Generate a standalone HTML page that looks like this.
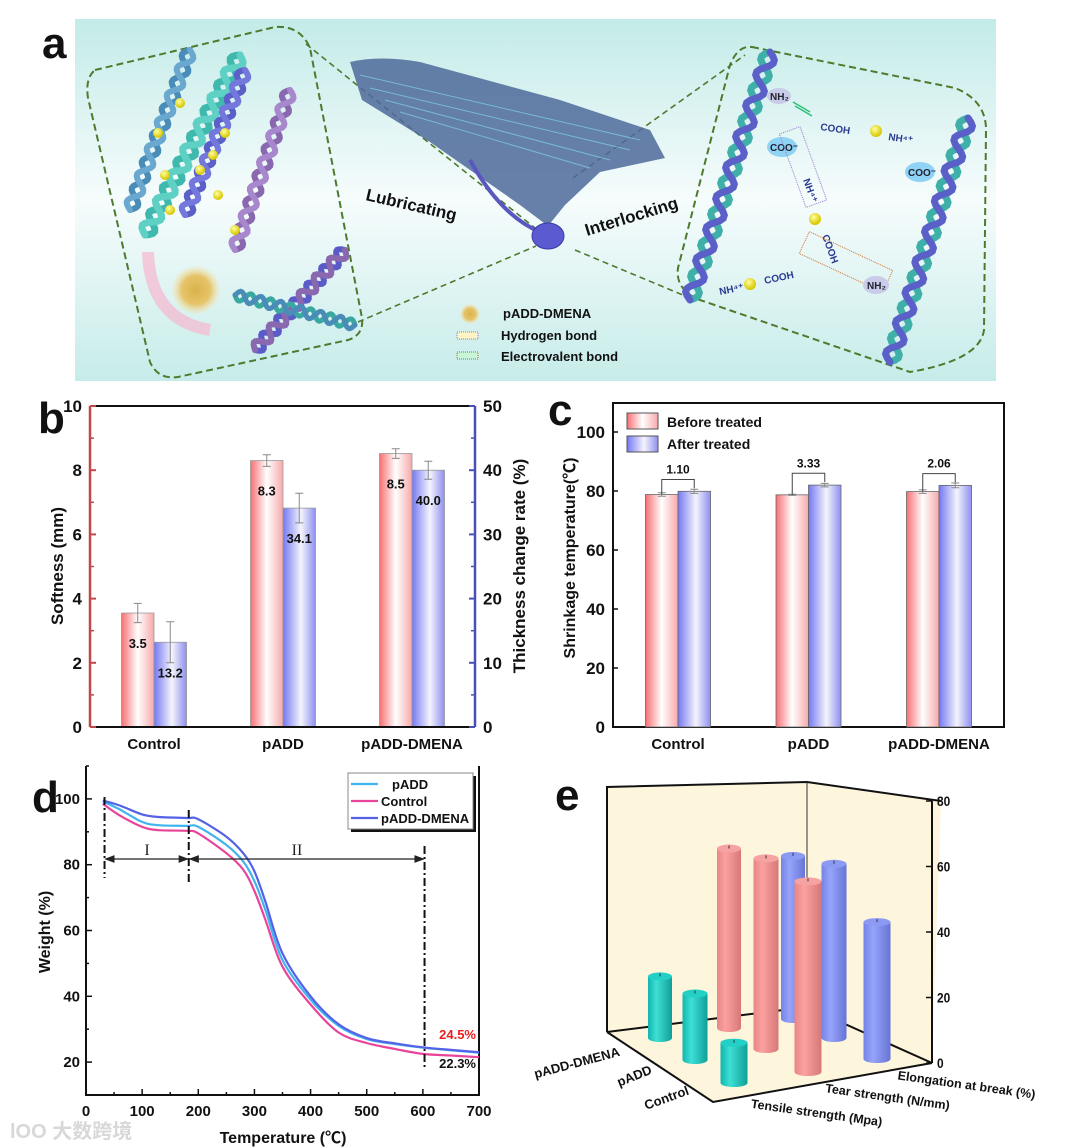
<!DOCTYPE html>
<html><head><meta charset="utf-8">
<style>
html,body{margin:0;padding:0;background:#fff;}
svg{display:block;font-family:"Liberation Sans","Noto Sans CJK SC",sans-serif;}
.t{font-weight:bold;fill:#111;}
</style></head>
<body>
<svg id="fig" width="1080" height="1148" viewBox="0 0 1080 1148" xmlns="http://www.w3.org/2000/svg">
<defs>
<linearGradient id="bgA" x1="0" y1="0" x2="0" y2="1">
<stop offset="0" stop-color="#c3ebe8"/><stop offset="0.5" stop-color="#f6fcfc"/><stop offset="1" stop-color="#c6ece9"/>
</linearGradient>
<linearGradient id="gRed" x1="0" y1="0" x2="1" y2="0">
<stop offset="0" stop-color="#f86f73"/><stop offset="0.5" stop-color="#ffffff"/><stop offset="1" stop-color="#f7a9ab"/>
</linearGradient>
<linearGradient id="gBlue" x1="0" y1="0" x2="1" y2="0">
<stop offset="0" stop-color="#7478f2"/><stop offset="0.55" stop-color="#f4f4fc"/><stop offset="1" stop-color="#8d90f0"/>
</linearGradient>
<linearGradient id="cTeal" x1="0" y1="0" x2="1" y2="0">
<stop offset="0" stop-color="#10b5ad"/><stop offset="0.35" stop-color="#3ee0d6"/><stop offset="1" stop-color="#0f9f98"/>
</linearGradient>
<linearGradient id="cPink" x1="0" y1="0" x2="1" y2="0">
<stop offset="0" stop-color="#e98686"/><stop offset="0.35" stop-color="#fba0a0"/><stop offset="1" stop-color="#d67878"/>
</linearGradient>
<linearGradient id="cBlue" x1="0" y1="0" x2="1" y2="0">
<stop offset="0" stop-color="#7483e6"/><stop offset="0.35" stop-color="#97a4fb"/><stop offset="1" stop-color="#6675d6"/>
</linearGradient>
<radialGradient id="sun" cx="0.5" cy="0.5" r="0.5">
<stop offset="0" stop-color="#d9b24a"/><stop offset="0.6" stop-color="#e6c46a"/><stop offset="1" stop-color="#f4e6b0" stop-opacity="0.2"/>
</radialGradient>
<radialGradient id="ball" cx="0.4" cy="0.35" r="0.6">
<stop offset="0" stop-color="#ffffa0"/><stop offset="1" stop-color="#d8c800"/>
</radialGradient>
<marker id="arr" markerWidth="8" markerHeight="8" refX="7" refY="4" orient="auto"><path d="M0,1 L8,4 L0,7 z" fill="#222"/></marker>
<marker id="arrS" markerWidth="8" markerHeight="8" refX="1" refY="4" orient="auto"><path d="M8,1 L0,4 L8,7 z" fill="#222"/></marker>
</defs>

<!-- ================= PANEL A ================= -->
<g id="panelA">
<text x="42" y="58" class="t" font-size="44">a</text>
<rect x="75" y="19" width="921" height="362" fill="url(#bgA)"/>
<path d="M95,70 L275,27 Q300,25 310,48 L362,318 Q364,335 348,340 L178,377 Q158,380 150,362 L88,98 Q85,78 95,70 Z" fill="none" stroke="#4e7a2e" stroke-width="2" stroke-dasharray="7,4"/>
<path d="M752,47 L955,88 Q985,100 986,128 L984,330 Q980,360 910,372 L700,300 Q675,290 678,268 L730,65 Q738,45 752,47 Z" fill="none" stroke="#4e7a2e" stroke-width="2" stroke-dasharray="7,4"/>
<path d="M306,44 L540,232 M358,322 L536,246 M573,178 L745,55 M575,250 L690,298" stroke="#4e7a2e" stroke-width="1.6" stroke-dasharray="6,4" fill="none"/>
<path d="M350,62 Q380,55 420,62 L560,100 L650,130 L665,158 L600,172 L565,205 L548,226 L520,205 L430,142 L362,100 Z" fill="#4d6a9a" opacity="0.85"/>
<path d="M360,75 L640,140 M370,88 L630,150 M385,100 L610,160 M400,112 L590,168" stroke="#7fd4e0" stroke-width="1" opacity="0.7"/>
<path d="M470,160 Q500,215 540,232" stroke="#5a58c0" stroke-width="4" fill="none"/>
<ellipse cx="548" cy="236" rx="16" ry="13" fill="#5b5ad0" stroke="#3a3aa0"/>
<g id="helices"></g>
<circle cx="196" cy="290" r="24" fill="url(#sun)"/>
<path d="M148,252 Q150,320 210,330" stroke="#f6b6cf" stroke-width="12" fill="none" opacity="0.7"/>
<text x="0" y="0" class="t" font-size="17" transform="translate(365,200) rotate(13)">Lubricating</text>
<text x="0" y="0" class="t" font-size="17" transform="translate(587,236) rotate(-17)">Interlocking</text>
<circle cx="470" cy="314" r="10" fill="url(#sun)"/>
<rect x="457" y="332" width="21" height="7" fill="#fff3c8" stroke="#8b7bd0" stroke-dasharray="1,1"/>
<rect x="457" y="352" width="21" height="7" fill="#c8f4d8" stroke="#b06a30" stroke-dasharray="1,1"/>
<text x="503" y="318" class="t" font-size="13">pADD-DMENA</text>
<text x="501" y="340" class="t" font-size="13">Hydrogen bond</text>
<text x="501" y="361" class="t" font-size="13">Electrovalent bond</text>
<g font-size="10" fill="#2a3a90" font-weight="bold">
<ellipse cx="779" cy="96" rx="12" ry="8" fill="#c8cce8"/><text x="770" y="100" fill="#223">NH₂</text>
<text x="820" y="130" transform="rotate(8 820 130)">COOH</text>
<circle cx="876" cy="131" r="6" fill="url(#ball)"/>
<text x="888" y="140" transform="rotate(8 888 140)">NH⁴⁺</text>
<ellipse cx="782" cy="147" rx="15" ry="10" fill="#8fd4f4"/><text x="770" y="151" fill="#223">COO⁻</text>
<ellipse cx="920" cy="172" rx="15" ry="10" fill="#8fd4f4"/><text x="908" y="176" fill="#223">COO⁻</text>
<rect x="792" y="128" width="22" height="78" fill="none" stroke="#9a7ad0" stroke-dasharray="1,1" transform="rotate(-20 803 167)"/>
<text x="803" y="180" transform="rotate(70 803 180)">NH⁴⁺</text>
<circle cx="815" cy="219" r="6" fill="url(#ball)"/>
<text x="822" y="236" transform="rotate(70 822 236)">COOH</text>
<rect x="800" y="250" width="92" height="24" fill="none" stroke="#d07030" stroke-dasharray="1,1" transform="rotate(25 846 262)"/>
<ellipse cx="876" cy="285" rx="13" ry="9" fill="#c8cce8"/><text x="867" y="289" fill="#223">NH₂</text>
<text x="720" y="295" transform="rotate(-12 720 295)">NH⁴⁺</text>
<circle cx="750" cy="284" r="6" fill="url(#ball)"/>
<text x="765" y="284" transform="rotate(-12 765 284)">COOH</text>
<path d="M793,102 L810,112 M795,106 L812,116" stroke="#2fc07a" stroke-width="1.5"/>
</g>
</g>

<!-- ================= PANEL B ================= -->
<g id="panelB">
<text x="38" y="433" class="t" font-size="44">b</text>
</g>

<!-- ================= PANEL C ================= -->
<g id="panelC">
<text x="548" y="425" class="t" font-size="44">c</text>
</g>

<!-- ================= PANEL D ================= -->
<g id="panelD">
<text x="32" y="812" class="t" font-size="44">d</text>
<text x="10" y="1138" font-size="20" fill="#d8d8d8" font-weight="bold">lOO 大数跨境</text>
</g>

<!-- ================= PANEL E ================= -->
<g id="panelE">
<text x="555" y="810" class="t" font-size="44">e</text>
</g>
</svg>

<script>
const NS='http://www.w3.org/2000/svg';
function mk(parent,tag,attrs,text){const e=document.createElementNS(NS,tag);for(const k in attrs)e.setAttribute(k,attrs[k]);if(text!==undefined)e.textContent=text;parent.appendChild(e);return e;}

/* ---------- Panel A helices ---------- */
const helixG=document.getElementById('helices');
function helix(x1,y1,x2,y2,amp,turns,c1,c2,w){
  const dx=x2-x1,dy=y2-y1,L=Math.hypot(dx,dy),nx=-dy/L,ny=dx/L;
  [[c1,0],[c2,Math.PI]].forEach(([c,ph])=>{
    let d='';for(let i=0;i<=80;i++){const t=i/80,s=amp*Math.sin(t*turns*2*Math.PI+ph);
      const x=x1+dx*t+nx*s,y=y1+dy*t+ny*s;d+=(i?'L':'M')+x.toFixed(1)+','+y.toFixed(1);}
    const p=mk(helixG,'path',{d:d,stroke:c,'stroke-width':w,fill:'none','stroke-linecap':'round'});
    
    
  });
}
helix(130,210,190,50,6,6,'#4a8cb8','#6aa8d0',6);
helix(145,235,240,55,7,7,'#3fb8ae','#5fd0c4',7);
helix(185,215,245,70,6,6,'#5a60c8','#7478dc',6);
helix(235,250,290,90,6,6,'#8a68b0','#a888cc',6);
helix(255,350,345,250,6,6,'#5a5ac8','#8a68b0',6);
helix(235,295,355,325,5,6,'#3aa8a0','#4a8cb8',5);
helix(690,300,770,52,7,8,'#3fb0a8','#5a60c8',7);
helix(890,362,968,118,7,8,'#3fb0a8','#5a60c8',7);
[[180,103],[158,133],[225,133],[165,175],[200,170],[218,195],[235,230],[170,210],[213,155]].forEach(p=>{
  const c=mk(helixG,'circle',{cx:p[0],cy:p[1],r:5,fill:'url(#ball)'});
  
  
});

/* ---------- Panel B data ---------- */
const bCategories=['Control','pADD','pADD-DMENA'];
const bSoftness=[3.55,8.3,8.52];
const bSoftErr=[0.3,0.18,0.15];
const bThickness=[13.2,34.1,40.0];
const bThickErr=[3.2,2.3,1.4];
const bSoftLabels=['3.5','8.3','8.5'];
const bThickLabels=['13.2','34.1','40.0'];
const bLeftTicks=[0,2,4,6,8,10];
const bRightTicks=[0,10,20,30,40,50];
(function(){
  const g=document.getElementById('panelB');
  const L=90,R=475,T=406,B=727;
  const yL=v=>B-(v/10)*(B-T), yR=v=>B-(v/50)*(B-T);
  const xC=i=>154+i*129, bw=32.5;
  bCategories.forEach((c,i)=>{
    const cx=xC(i);
    const r=mk(g,'rect',{x:cx-bw,y:yL(bSoftness[i]),width:bw,height:B-yL(bSoftness[i]),fill:'url(#gRed)',stroke:'#999','stroke-width':0.8});
    
    
    const b=mk(g,'rect',{x:cx,y:yR(bThickness[i]),width:bw,height:B-yR(bThickness[i]),fill:'url(#gBlue)',stroke:'#999','stroke-width':0.8});
    
    
    [[cx-bw/2,yL(bSoftness[i]+bSoftErr[i]),yL(bSoftness[i]-bSoftErr[i])],[cx+bw/2,yR(bThickness[i]+bThickErr[i]),yR(bThickness[i]-bThickErr[i])]].forEach(e=>{
      const eb=mk(g,'path',{d:`M${e[0]},${e[1]}V${e[2]}M${e[0]-4},${e[1]}h8M${e[0]-4},${e[2]}h8`,stroke:'#888','stroke-width':1,fill:'none'});
      
      
    });
    const t1=mk(g,'text',{x:cx-bw/2,y:yL(bSoftness[i])+35,'text-anchor':'middle','font-size':13,class:'t'},bSoftLabels[i]);
    
    
    const t2=mk(g,'text',{x:cx+bw/2,y:yR(bThickness[i])+35,'text-anchor':'middle','font-size':13,class:'t'},bThickLabels[i]);
    
    
    const cl=mk(g,'text',{x:cx,y:749,'text-anchor':'middle','font-size':15,class:'t'},c);
    
    
  });
  const ax=mk(g,'path',{d:`M${L},${T}H${R}M${L},${B}H${R}`,stroke:'#111','stroke-width':2,fill:'none'});
  
  
  const la=mk(g,'line',{x1:L,y1:T,x2:L,y2:B,stroke:'#c04848','stroke-width':2.5});
  
  
  const ra=mk(g,'line',{x1:R,y1:T,x2:R,y2:B,stroke:'#4850b8','stroke-width':2.5});
  
  
  bLeftTicks.forEach((v,i)=>{
    const y=yL(v);mk(g,'line',{x1:L,y1:y,x2:L+6,y2:y,stroke:'#c04848','stroke-width':2});
    if(i<bLeftTicks.length-1)mk(g,'line',{x1:L,y1:y-(B-T)/10,x2:L+4,y2:y-(B-T)/10,stroke:'#c04848','stroke-width':1.5});
    const t=mk(g,'text',{x:L-8,y:y+6,'text-anchor':'end','font-size':17,class:'t'},v);
    
    
  });
  bRightTicks.forEach((v,i)=>{
    const y=yR(v);mk(g,'line',{x1:R,y1:y,x2:R-6,y2:y,stroke:'#4850b8','stroke-width':2});
    if(i<bRightTicks.length-1)mk(g,'line',{x1:R,y1:y-(B-T)/10,x2:R-4,y2:y-(B-T)/10,stroke:'#4850b8','stroke-width':1.5});
    const t=mk(g,'text',{x:R+8,y:y+6,'font-size':17,class:'t'},v);
    
    
  });
  const yt=mk(g,'text',{x:0,y:0,transform:'translate(63,566) rotate(-90)','text-anchor':'middle','font-size':17,class:'t'},'Softness (mm)');
  
  
  const yt2=mk(g,'text',{x:0,y:0,transform:'translate(525,566) rotate(-90)','text-anchor':'middle','font-size':17,class:'t'},'Thickness change rate (%)');
  
  
})();

/* ---------- Panel C data ---------- */
const cCategories=['Control','pADD','pADD-DMENA'];
const cBefore=[78.8,78.7,79.8];
const cAfter=[79.9,82.0,81.9];
const cErrBefore=[0.6,0.2,0.6];
const cErrAfter=[0.7,0.6,0.8];
const cDiffLabels=['1.10','3.33','2.06'];
const cTicks=[0,20,40,60,80,100];
(function(){
  const g=document.getElementById('panelC');
  const L=613,R=1004,T=403,B=727;
  const y=v=>B-v*(B-432)/100;
  const xC=i=>678+i*130.5, bw=32.5;
  const fr=mk(g,'rect',{x:L,y:T,width:R-L,height:B-T,fill:'none',stroke:'#111','stroke-width':2});
  
  
  cCategories.forEach((c,i)=>{
    const cx=xC(i);
    const r=mk(g,'rect',{x:cx-bw,y:y(cBefore[i]),width:bw,height:B-y(cBefore[i]),fill:'url(#gRed)',stroke:'#666','stroke-width':0.8});
    
    
    const b=mk(g,'rect',{x:cx,y:y(cAfter[i]),width:bw,height:B-y(cAfter[i]),fill:'url(#gBlue)',stroke:'#666','stroke-width':0.8});
    
    
    [[cx-bw/2,cBefore[i],cErrBefore[i]],[cx+bw/2,cAfter[i],cErrAfter[i]]].forEach(e=>{
      const eb=mk(g,'path',{d:`M${e[0]},${y(e[1]+e[2])}V${y(e[1]-e[2])}M${e[0]-4},${y(e[1]+e[2])}h8M${e[0]-4},${y(e[1]-e[2])}h8`,stroke:'#888','stroke-width':1,fill:'none'});
      
      
    });
    const top=y(Math.max(cBefore[i],cAfter[i])+4);
    const br=mk(g,'path',{d:`M${cx-bw/2},${y(cBefore[i])}V${top}H${cx+bw/2}V${y(cAfter[i])-3}`,stroke:'#444','stroke-width':1,fill:'none'});
    
    
    const dl=mk(g,'text',{x:cx,y:top-6,'text-anchor':'middle','font-size':12,class:'t'},cDiffLabels[i]);
    
    
    const cl=mk(g,'text',{x:cx,y:749,'text-anchor':'middle','font-size':15,class:'t'},c);
    
    
  });
  cTicks.forEach(v=>{
    mk(g,'line',{x1:L,y1:y(v),x2:L+5,y2:y(v),stroke:'#111','stroke-width':1.5});
    const t=mk(g,'text',{x:L-8,y:y(v)+6,'text-anchor':'end','font-size':17,class:'t'},v);
    
    
  });
  const yt=mk(g,'text',{x:0,y:0,transform:'translate(575,558) rotate(-90)','text-anchor':'middle','font-size':16,class:'t'},'Shrinkage temperature(℃)');
  
  
  const l1=mk(g,'rect',{x:627,y:413,width:31,height:16,fill:'url(#gRed)',stroke:'#555'});
  
  
  const l2=mk(g,'rect',{x:627,y:436,width:31,height:16,fill:'url(#gBlue)',stroke:'#555'});
  
  
  const lt1=mk(g,'text',{x:667,y:427,'font-size':14,class:'t'},'Before treated');
  
  
  const lt2=mk(g,'text',{x:667,y:449,'font-size':14,class:'t'},'After treated');
  
  
})();

/* ---------- Panel D data ---------- */
const dTemps=[30,60,100,130,180,200,250,280,300,320,350,400,450,500,550,600,650,700];
const dControl=[98.5,95,91.5,90.5,90.3,89.5,83.5,78.5,72,63,49,37.5,29,25.8,24,22.5,22,21.5];
const dPADD=[99.3,96.8,93,92,91.8,91.5,86,81,75,66,51,39,31,27,25.5,24.4,23.6,22.9];
const dDMENA=[99.5,98,95.3,94.5,94.2,93.8,88.5,83.5,78,68.5,53,40,31.5,27.3,25.7,24.5,23.7,23];
const dXTicks=[0,100,200,300,400,500,600,700];
const dYTicks=[20,40,60,80,100];
(function(){
  const g=document.getElementById('panelD');
  const L=86,R=479,T=766,B=1095;
  const x=v=>L+v*(R-L)/700, y=v=>B-(v-10)*(B-T)/100;
  function smooth(xs,ys){
    const P=xs.map((t,i)=>[x(t),y(ys[i])]);let d='M'+P[0][0].toFixed(1)+','+P[0][1].toFixed(1);
    for(let i=0;i<P.length-1;i++){const p0=P[Math.max(i-1,0)],p1=P[i],p2=P[i+1],p3=P[Math.min(i+2,P.length-1)];
      const c1=[p1[0]+(p2[0]-p0[0])/6,p1[1]+(p2[1]-p0[1])/6],c2=[p2[0]-(p3[0]-p1[0])/6,p2[1]-(p3[1]-p1[1])/6];
      d+=`C${c1[0].toFixed(1)},${c1[1].toFixed(1)} ${c2[0].toFixed(1)},${c2[1].toFixed(1)} ${p2[0].toFixed(1)},${p2[1].toFixed(1)}`;}
    return d;}
  const fr=mk(g,'path',{d:`M${L},${T}V${B}H${R}V${T}`,stroke:'#111','stroke-width':2,fill:'none'});
  
  
  const s1=mk(g,'path',{d:smooth(dTemps,dPADD),stroke:'#41b4f0','stroke-width':2.2,fill:'none'});
  
  
  const s2=mk(g,'path',{d:smooth(dTemps,dControl),stroke:'#e8449a','stroke-width':2.2,fill:'none'});
  
  
  const s3=mk(g,'path',{d:smooth(dTemps,dDMENA),stroke:'#5462e6','stroke-width':2.2,fill:'none'});
  
  
  [[33,797,878],[183,810,882],[603,846,1070]].forEach(v=>{
    const l=mk(g,'line',{x1:x(v[0]),y1:v[1],x2:x(v[0]),y2:v[2],stroke:'#111','stroke-width':2,'stroke-dasharray':'8,3,2,3'});
    
    
  });
  const a1=mk(g,'line',{x1:x(33)+1,y1:859,x2:x(183)-1,y2:859,stroke:'#222','stroke-width':1.3,'marker-end':'url(#arr)','marker-start':'url(#arrS)'});
  
  
  const a2=mk(g,'line',{x1:x(183)+1,y1:859,x2:x(603)-1,y2:859,stroke:'#222','stroke-width':1.3,'marker-end':'url(#arr)','marker-start':'url(#arrS)'});
  
  
  const s1l=mk(g,'text',{x:147,y:855,'text-anchor':'middle','font-size':16,'font-family':'Liberation Serif, serif',fill:'#222'},'I');
  
  
  const s2l=mk(g,'text',{x:297,y:855,'text-anchor':'middle','font-size':16,'font-family':'Liberation Serif, serif',fill:'#222'},'II');
  
  
  dXTicks.forEach((v,i)=>{
    mk(g,'line',{x1:x(v),y1:B,x2:x(v),y2:B-6,stroke:'#111','stroke-width':1.5});
    if(i<dXTicks.length-1)mk(g,'line',{x1:x(v+50),y1:B,x2:x(v+50),y2:B-3,stroke:'#111','stroke-width':1.5});
    const t=mk(g,'text',{x:x(v),y:1116,'text-anchor':'middle','font-size':15,class:'t'},v);
    
    
  });
  dYTicks.forEach(v=>{
    mk(g,'line',{x1:L,y1:y(v),x2:L+6,y2:y(v),stroke:'#111','stroke-width':1.5});
    mk(g,'line',{x1:L,y1:y(v+10),x2:L+3,y2:y(v+10),stroke:'#111','stroke-width':1.5});
    const t=mk(g,'text',{x:L-6,y:y(v)+5,'text-anchor':'end','font-size':15,class:'t'},v);
    
    
  });
  const xt=mk(g,'text',{x:283,y:1143,'text-anchor':'middle','font-size':16,class:'t'},'Temperature (℃)');
  
  
  const yt=mk(g,'text',{x:0,y:0,transform:'translate(50,932) rotate(-90)','text-anchor':'middle','font-size':16,class:'t'},'Weight (%)');
  
  
  const r1=mk(g,'text',{x:476,y:1039,'text-anchor':'end','font-size':13,'font-weight':'bold',fill:'#e82020'},'24.5%');
  
  
  const r2=mk(g,'text',{x:476,y:1068,'text-anchor':'end','font-size':13,class:'t'},'22.3%');
  
  
  mk(g,'rect',{x:351,y:776,width:125,height:56,fill:'#111'});
  const lb=mk(g,'rect',{x:348,y:773,width:125,height:56,fill:'#fff',stroke:'#888'});
  
  
  [['pADD','#41b4f0',784],['Control','#e8449a',801],['pADD-DMENA','#5462e6',818]].forEach(e=>{
    mk(g,'line',{x1:351,y1:e[2],x2:378,y2:e[2],stroke:e[1],'stroke-width':2.2});
    const t=mk(g,'text',{x:e[0]==='pADD'?392:381,y:e[2]+5,'font-size':13,class:'t'},e[0]);
    
    
  });
})();

/* ---------- Panel E data ---------- */
const eSamples=['pADD-DMENA','pADD','Control'];
const eTensile=[18.8,20.3,12.3];
const eTear=[54.8,58.2,58.2];
const eElongation=[49.8,53.2,41.8];
const eZTicks=[0,20,40,60,80];
(function(){
  const g=document.getElementById('panelE');
  const wall=mk(g,'path',{d:'M607,787 L807,782 L807,1007 L607,1032 Z M807,782 L941,801 L932,1063 L807,1007 Z M607,1032 L807,1007 L932,1063 L713,1102 Z',fill:'#fdf5dc',stroke:'none'});
  
  
  const ed=mk(g,'path',{d:'M607,1032 V787 L807,782 L941,801 M607,1032 L713,1102 L932,1063 M607,1032 L807,1007 L932,1063',stroke:'#111','stroke-width':2,fill:'none'});
  
  
  mk(g,'line',{x1:807,y1:782,x2:807,y2:1007,stroke:'#333','stroke-width':1});
  const za=mk(g,'line',{x1:932,y1:801,x2:932,y2:1063,stroke:'#111','stroke-width':2});
  
  
  const zs=3.275;
  eZTicks.forEach(v=>{
    const yy=1063-v*zs;
    mk(g,'line',{x1:932,y1:yy,x2:926,y2:yy,stroke:'#111','stroke-width':1.5});
    const t=mk(g,'text',{x:937,y:yy+5,'font-size':14,class:'t',transform:`scale(0.85,1)`,'transform-origin':`937 ${yy}`},v);
    
    
  });
  const baseX=[[660,729,793],[695,766,834],[734,808,877]];
  const baseY=[[1038,1028,1019],[1060,1049,1038],[1083,1072,1059]];
  const widths=[24,25,27];
  const series=[[eTensile,'url(#cTeal)','#22d0c6','tensile'],[eTear,'url(#cPink)','#f7a2a2','tear'],[eElongation,'url(#cBlue)','#8d9af4','elongation']];
  eSamples.forEach((s,i)=>{
    series.forEach((ser,j)=>{
      const cx=baseX[i][j],by=baseY[i][j],w=widths[i],h=ser[0][i]*zs,ty=by-h;
      const cyl=mk(g,'g',{});
      
      
      mk(cyl,'ellipse',{cx:cx,cy:by,rx:w/2,ry:4,fill:ser[1]});
      mk(cyl,'rect',{x:cx-w/2,y:ty,width:w,height:h,fill:ser[1]});
      mk(cyl,'ellipse',{cx:cx,cy:ty,rx:w/2,ry:4,fill:ser[2]});
      mk(cyl,'line',{x1:cx,y1:ty-3,x2:cx,y2:ty,stroke:'#333','stroke-width':1});
    });
  });
  [['pADD-DMENA',578,1067,-15],['pADD',636,1080,-22],['Control',668,1102,-20]].forEach(e=>{
    const t=mk(g,'text',{x:0,y:0,transform:`translate(${e[1]},${e[2]}) rotate(${e[3]})`,'text-anchor':'middle','font-size':13,class:'t'},e[0]);
    
    
  });
  [['Tensile strength (Mpa)',816,1117,8],['Tear strength (N/mm)',887,1101,8],['Elongation at break (%)',966,1089,8]].forEach(e=>{
    const t=mk(g,'text',{x:0,y:0,transform:`translate(${e[1]},${e[2]}) rotate(${e[3]})`,'text-anchor':'middle','font-size':12.5,class:'t'},e[0]);
    
    
  });
})();
</script>
</body></html>
